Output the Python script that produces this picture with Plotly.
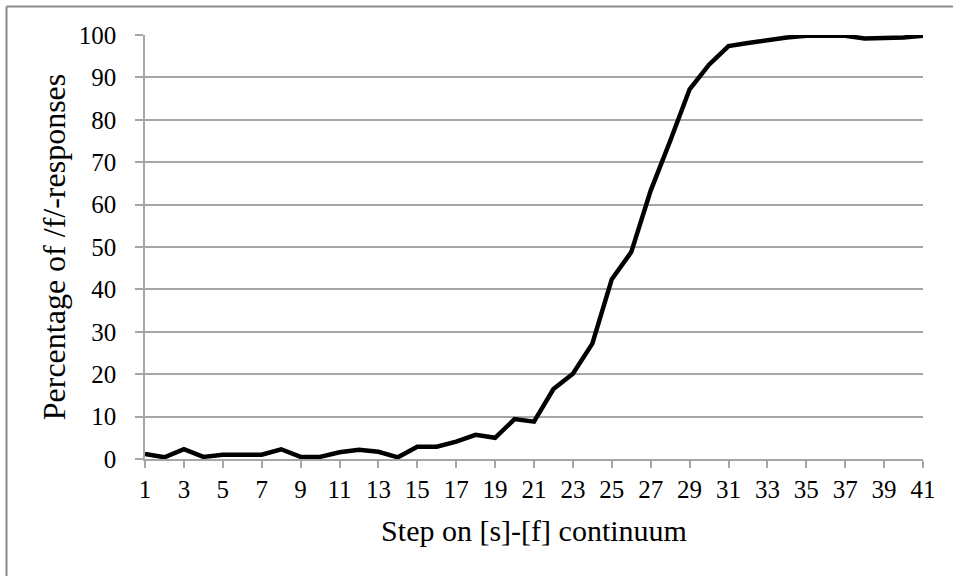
import plotly.graph_objects as go

steps = list(range(1, 42))
pct = [1.2, 0.4, 2.3, 0.5, 1.0, 1.0, 1.0, 2.3, 0.5, 0.5,
       1.6, 2.2, 1.7, 0.4, 2.9, 2.9, 4.1, 5.7, 5.0, 9.4,
       8.8, 16.5, 20.1, 27.2, 42.4, 48.8, 63.3, 75.0, 87.2, 93.0,
       97.4, 98.1, 98.8, 99.4, 99.8, 99.8, 99.8, 99.2, 99.2, 99.4,
       99.8]
x_ticks = list(range(1, 42, 2))

W, H = 953, 576
L, R, T, B = 145, 30, 35, 117
pw, ph = W - L - R, H - T - B

font = "Liberation Serif"
grid = "#a6a6a6"

fig = go.Figure()
fig.add_trace(go.Scatter(x=steps, y=pct, mode="lines",
                         line=dict(color="black", width=4.5), showlegend=False))

bx = (6.5 - L) / pw
by = (H - B - 6.5) / ph
fig.add_shape(type="line", xref="paper", yref="paper", x0=bx, x1=(W - L + 5) / pw,
              y0=by, y1=by, line=dict(color="#8a8a8a", width=2))
fig.add_shape(type="line", xref="paper", yref="paper", x0=bx, x1=bx,
              y0=by, y1=-(B + 5) / ph, line=dict(color="#8a8a8a", width=2))

fig.update_layout(
    width=W, height=H, margin=dict(l=L, r=R, t=T, b=B),
    paper_bgcolor="white", plot_bgcolor="white",
    font=dict(family=font, size=25, color="black"),
    xaxis=dict(range=[1, 41], tickvals=x_ticks, ticktext=[str(v) for v in x_ticks],
               ticks="outside", ticklen=7, tickcolor=grid, tickwidth=1.5,
               showline=True, linecolor=grid, linewidth=1.5, showgrid=False, zeroline=False,
               title=dict(text="Step on [s]-[f] continuum", standoff=18,
                          font=dict(family=font, size=30)),
               tickfont=dict(family=font, size=25)),
    yaxis=dict(range=[0, 100], dtick=10, ticks="outside", ticklen=8, tickcolor=grid,
               tickwidth=1.5, showline=True, linecolor=grid, linewidth=1.5,
               showgrid=True, gridcolor=grid, gridwidth=1.5, zeroline=False,
               ticklabelstandoff=14,
               title=dict(text="Percentage of /f/-responses", standoff=4,
                          font=dict(family=font, size=32)),
               tickfont=dict(family=font, size=25)),
)
fig.write_html("out.html")
